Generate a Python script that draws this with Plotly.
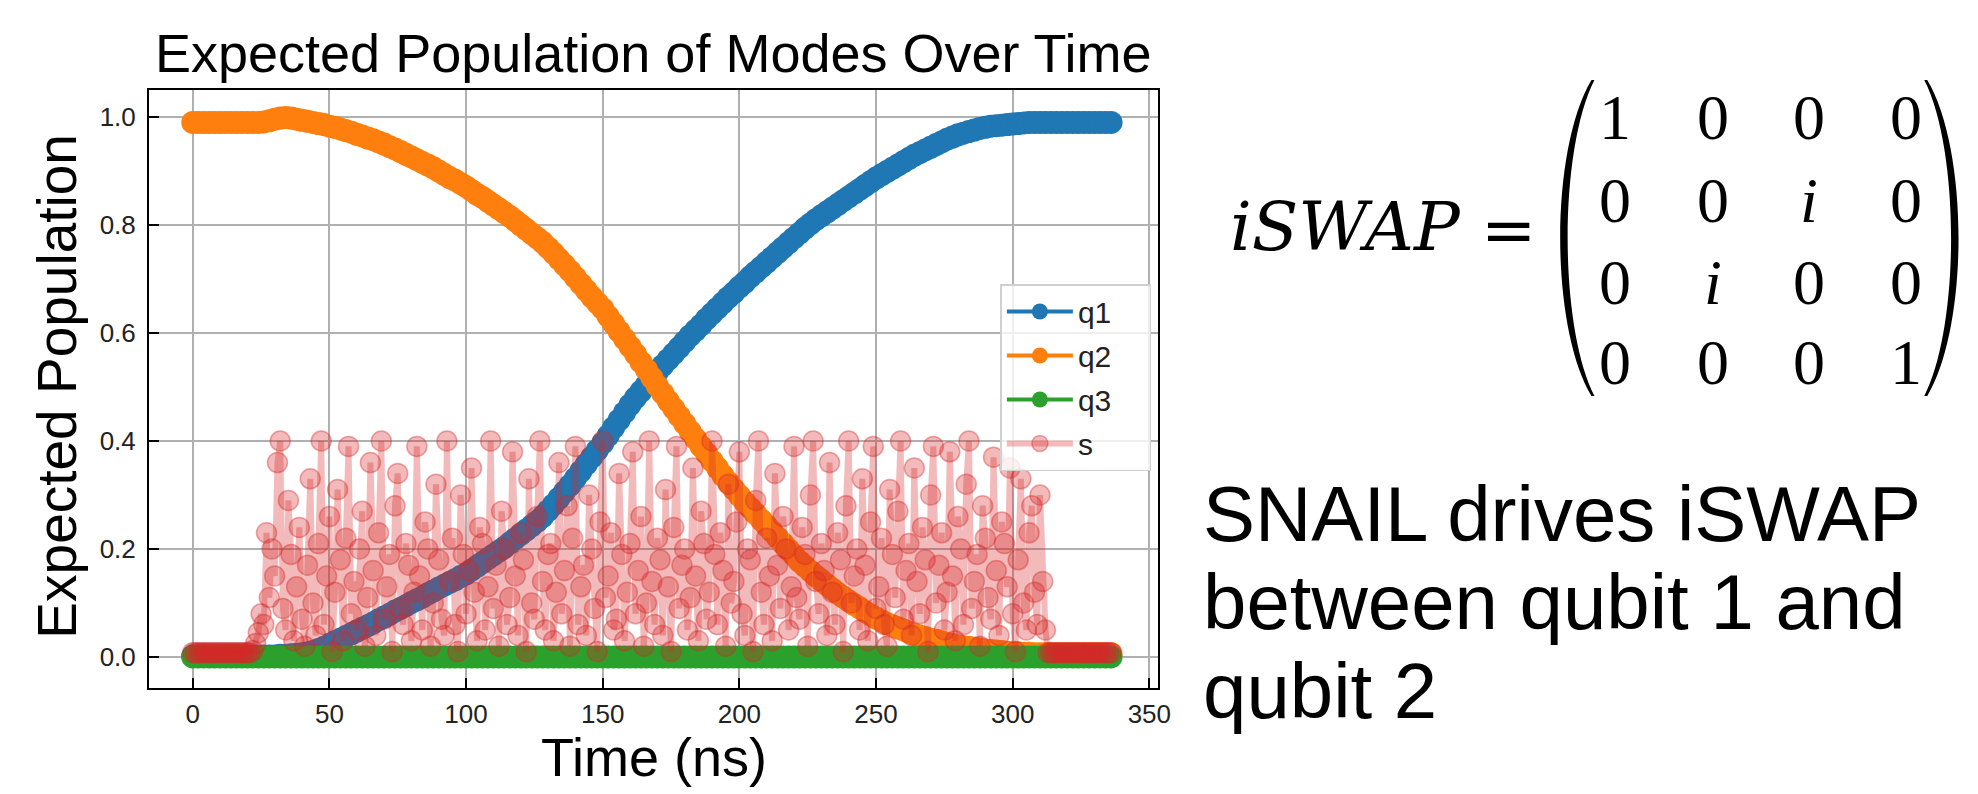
import plotly.graph_objects as go

W, H = 1978, 794

# ---------------- data ----------------
time_q = list(range(0, 337, 2))      # ns, for q1 / q2 / q3
time_s = list(range(0, 337))         # ns, for s

q1 = [
    0.002, 0.002, 0.002, 0.002, 0.002, 0.002, 0.002, 0.002, 0.002, 0.002,
    0.002, 0.002, 0.002, 0.002, 0.002, 0.002, 0.003, 0.003, 0.004, 0.005,
    0.006, 0.008, 0.010, 0.014, 0.018, 0.023, 0.028, 0.033, 0.038, 0.043,
    0.048, 0.053, 0.058, 0.063, 0.069, 0.074, 0.079, 0.085, 0.090, 0.095,
    0.101, 0.106, 0.111, 0.117, 0.122, 0.128, 0.133, 0.138, 0.143, 0.149,
    0.154, 0.161, 0.168, 0.175, 0.182, 0.189, 0.196, 0.203, 0.211, 0.219,
    0.227, 0.235, 0.243, 0.251, 0.260, 0.271, 0.282, 0.294, 0.306, 0.318,
    0.331, 0.344, 0.357, 0.370, 0.383, 0.396, 0.410, 0.425, 0.439, 0.453,
    0.467, 0.480, 0.492, 0.504, 0.516, 0.528, 0.540, 0.551, 0.562, 0.573,
    0.584, 0.595, 0.605, 0.615, 0.626, 0.636, 0.646, 0.656, 0.666, 0.675,
    0.685, 0.694, 0.704, 0.713, 0.722, 0.731, 0.740, 0.749, 0.758, 0.767,
    0.776, 0.785, 0.794, 0.802, 0.810, 0.817, 0.824, 0.831, 0.838, 0.845,
    0.852, 0.859, 0.866, 0.873, 0.880, 0.887, 0.893, 0.899, 0.905, 0.911,
    0.917, 0.923, 0.929, 0.934, 0.939, 0.944, 0.949, 0.954, 0.959, 0.963,
    0.967, 0.970, 0.973, 0.976, 0.979, 0.981, 0.983, 0.984, 0.985, 0.986,
    0.987, 0.988, 0.989, 0.990, 0.990, 0.990, 0.990, 0.990, 0.990, 0.990,
    0.990, 0.990, 0.990, 0.990, 0.990, 0.990, 0.990, 0.990, 0.990,
]

q2 = [
    0.990, 0.990, 0.990, 0.990, 0.990, 0.990, 0.990, 0.990, 0.990, 0.990,
    0.990, 0.990, 0.990, 0.991, 0.993, 0.996, 0.998, 0.999, 0.998, 0.996,
    0.994, 0.992, 0.990, 0.988, 0.986, 0.983, 0.981, 0.978, 0.975, 0.972,
    0.968, 0.965, 0.961, 0.958, 0.954, 0.950, 0.945, 0.941, 0.936, 0.931,
    0.926, 0.921, 0.916, 0.911, 0.906, 0.900, 0.894, 0.888, 0.883, 0.877,
    0.871, 0.864, 0.857, 0.851, 0.844, 0.837, 0.830, 0.823, 0.816, 0.808,
    0.800, 0.792, 0.784, 0.776, 0.768, 0.758, 0.748, 0.737, 0.726, 0.715,
    0.703, 0.691, 0.679, 0.667, 0.656, 0.645, 0.631, 0.617, 0.603, 0.589,
    0.575, 0.561, 0.546, 0.532, 0.517, 0.502, 0.488, 0.474, 0.460, 0.446,
    0.432, 0.418, 0.404, 0.390, 0.377, 0.363, 0.350, 0.336, 0.323, 0.311,
    0.299, 0.287, 0.276, 0.265, 0.254, 0.243, 0.232, 0.221, 0.210, 0.199,
    0.188, 0.177, 0.168, 0.159, 0.150, 0.142, 0.134, 0.126, 0.118, 0.111,
    0.104, 0.097, 0.091, 0.084, 0.078, 0.072, 0.067, 0.062, 0.058, 0.054,
    0.050, 0.046, 0.042, 0.039, 0.036, 0.033, 0.031, 0.028, 0.025, 0.023,
    0.021, 0.019, 0.018, 0.016, 0.015, 0.013, 0.012, 0.011, 0.010, 0.009,
    0.008, 0.008, 0.007, 0.007, 0.006, 0.006, 0.006, 0.006, 0.006, 0.006,
    0.006, 0.006, 0.006, 0.006, 0.006, 0.006, 0.006, 0.006, 0.006,
]

q3 = [
    0.0, 0.0, 0.0, 0.0, 0.0, 0.0, 0.0, 0.0, 0.0, 0.0,
    0.0, 0.0, 0.0, 0.0, 0.0, 0.0, 0.0, 0.0, 0.0, 0.0,
    0.0, 0.0, 0.0, 0.0, 0.0, 0.0, 0.0, 0.0, 0.0, 0.0,
    0.0, 0.0, 0.0, 0.0, 0.0, 0.0, 0.0, 0.0, 0.0, 0.0,
    0.0, 0.0, 0.0, 0.0, 0.0, 0.0, 0.0, 0.0, 0.0, 0.0,
    0.0, 0.0, 0.0, 0.0, 0.0, 0.0, 0.0, 0.0, 0.0, 0.0,
    0.0, 0.0, 0.0, 0.0, 0.0, 0.0, 0.0, 0.0, 0.0, 0.0,
    0.0, 0.0, 0.0, 0.0, 0.0, 0.0, 0.0, 0.0, 0.0, 0.0,
    0.0, 0.0, 0.0, 0.0, 0.0, 0.0, 0.0, 0.0, 0.0, 0.0,
    0.0, 0.0, 0.0, 0.0, 0.0, 0.0, 0.0, 0.0, 0.0, 0.0,
    0.0, 0.0, 0.0, 0.0, 0.0, 0.0, 0.0, 0.0, 0.0, 0.0,
    0.0, 0.0, 0.0, 0.0, 0.0, 0.0, 0.0, 0.0, 0.0, 0.0,
    0.0, 0.0, 0.0, 0.0, 0.0, 0.0, 0.0, 0.0, 0.0, 0.0,
    0.0, 0.0, 0.0, 0.0, 0.0, 0.0, 0.0, 0.0, 0.0, 0.0,
    0.0, 0.0, 0.0, 0.0, 0.0, 0.0, 0.0, 0.0, 0.0, 0.0,
    0.0, 0.0, 0.0, 0.0, 0.0, 0.0, 0.0, 0.0, 0.0, 0.0,
    0.0, 0.0, 0.0, 0.0, 0.0, 0.0, 0.0, 0.0, 0.0,
]

s_pop = [
    # t = 0 .. 21
    0.008, 0.008, 0.008, 0.008, 0.008, 0.008, 0.008, 0.008, 0.008, 0.008,
    0.008, 0.008, 0.008, 0.008, 0.008, 0.008, 0.008, 0.008, 0.008, 0.008,
    0.008, 0.008,
    # t = 22 .. 311
    0.012, 0.025, 0.045, 0.080, 0.060, 0.230, 0.110, 0.200, 0.150, 0.360,
    0.400, 0.090, 0.050, 0.290, 0.190, 0.030, 0.130, 0.240, 0.070, 0.020,
    0.170, 0.330, 0.100, 0.040, 0.210, 0.400, 0.060, 0.150, 0.260, 0.010,
    0.120, 0.310, 0.180, 0.030, 0.220, 0.390, 0.080, 0.140, 0.050, 0.200,
    0.270, 0.020, 0.110, 0.360, 0.160, 0.040, 0.230, 0.400, 0.070, 0.130,
    0.190, 0.010, 0.280, 0.340, 0.090, 0.060, 0.210, 0.170, 0.030, 0.120,
    0.390, 0.150, 0.050, 0.250, 0.200, 0.020, 0.100, 0.320, 0.180, 0.070,
    0.040, 0.400, 0.140, 0.220, 0.060, 0.010, 0.300, 0.190, 0.080, 0.160,
    0.350, 0.120, 0.030, 0.240, 0.210, 0.050, 0.130, 0.400, 0.090, 0.170,
    0.020, 0.270, 0.200, 0.060, 0.110, 0.380, 0.150, 0.040, 0.230, 0.180,
    0.010, 0.330, 0.100, 0.070, 0.260, 0.400, 0.140, 0.050, 0.190, 0.210,
    0.030, 0.120, 0.360, 0.080, 0.160, 0.280, 0.020, 0.220, 0.390, 0.060,
    0.130, 0.170, 0.040, 0.300, 0.200, 0.090, 0.010, 0.250, 0.400, 0.110,
    0.150, 0.230, 0.050, 0.070, 0.340, 0.190, 0.030, 0.120, 0.210, 0.380,
    0.080, 0.160, 0.260, 0.020, 0.100, 0.400, 0.140, 0.060, 0.220, 0.180,
    0.040, 0.310, 0.130, 0.010, 0.240, 0.390, 0.090, 0.170, 0.200, 0.050,
    0.110, 0.350, 0.150, 0.030, 0.270, 0.210, 0.070, 0.120, 0.400, 0.190,
    0.060, 0.230, 0.160, 0.020, 0.320, 0.100, 0.140, 0.250, 0.380, 0.080,
    0.040, 0.200, 0.180, 0.010, 0.290, 0.400, 0.120, 0.060, 0.220, 0.150,
    0.030, 0.340, 0.170, 0.090, 0.260, 0.200, 0.050, 0.130, 0.390, 0.110,
    0.070, 0.240, 0.190, 0.020, 0.300, 0.400, 0.140, 0.080, 0.210, 0.160,
    0.040, 0.360, 0.120, 0.060, 0.230, 0.180, 0.010, 0.280, 0.400, 0.100,
    0.150, 0.200, 0.050, 0.330, 0.170, 0.030, 0.250, 0.390, 0.090, 0.130,
    0.220, 0.060, 0.020, 0.310, 0.190, 0.110, 0.270, 0.400, 0.070, 0.160,
    0.210, 0.040, 0.350, 0.140, 0.080, 0.240, 0.180, 0.010, 0.300, 0.390,
    0.100, 0.170, 0.230, 0.050, 0.120, 0.380, 0.150, 0.030, 0.260, 0.200,
    0.060, 0.320, 0.400, 0.090, 0.140, 0.190, 0.020, 0.280, 0.220, 0.110,
    0.070, 0.370, 0.160, 0.040, 0.250, 0.210, 0.130, 0.350, 0.080, 0.010,
    0.180, 0.330, 0.100, 0.050, 0.230, 0.280, 0.120, 0.060, 0.300, 0.140,
    # t = 312 .. 336
    0.050, 0.008, 0.008, 0.008, 0.008, 0.008, 0.008, 0.008, 0.008, 0.008,
    0.008, 0.008, 0.008, 0.008, 0.008, 0.008, 0.008, 0.008, 0.008, 0.008,
    0.008, 0.008, 0.008, 0.008, 0.008,
]

series_names = ["q1", "q2", "q3", "s"]
x_ticks = [0, 50, 100, 150, 200, 250, 300, 350]
y_ticks = [0.0, 0.2, 0.4, 0.6, 0.8, 1.0]

title_text = "Expected Population of Modes Over Time"
x_title = "Time (ns)"
y_title = "Expected Population"

matrix_rows = [
    ["1", "0", "0", "0"],
    ["0", "0", "<i>i</i>", "0"],
    ["0", "<i>i</i>", "0", "0"],
    ["0", "0", "0", "1"],
]
note_lines = ["SNAIL drives iSWAP", "between qubit 1 and", "qubit 2"]

assert len(q1) == len(time_q) and len(q2) == len(time_q) and len(q3) == len(time_q)
assert len(s_pop) == len(time_s)

# ---------------- styling ----------------
SANS = "Liberation Sans, Arial, Helvetica, sans-serif"
SERIF = "Liberation Serif, Times New Roman, serif"
DSERIF = "DejaVu Serif, Liberation Serif, serif"
BLUE, ORANGE, GREEN = "#1f77b4", "#ff7f0e", "#2ca02c"
RED_A = "rgba(214,39,40,0.32)"
RED_EDGE = "rgba(214,39,40,0.40)"
PAD = "\u00a0" * 4   # right padding inside the legend box


def fx(px):
    return px / W


def fy(py):
    return 1 - py / H


fig = go.Figure()

solid = [(q1, BLUE), (q2, ORANGE), (q3, GREEN)]
for (vals, col), name in zip(solid, series_names[:3]):
    fig.add_trace(go.Scatter(
        x=time_q, y=vals, name=name + PAD, mode="lines+markers",
        legendgroup=name,
        line=dict(color=col, width=4),
        marker=dict(color=col, size=23, line=dict(width=0)),
    ))

fig.add_trace(go.Scatter(
    x=time_s, y=s_pop, name=series_names[3] + PAD, mode="lines+markers",
    legendgroup=series_names[3],
    line=dict(color=RED_A, width=6),
    marker=dict(color=RED_A, size=20, line=dict(width=1.5, color=RED_EDGE)),
))

axis_common = dict(
    showline=True, linecolor="black", linewidth=2, mirror=True,
    showgrid=True, gridcolor="#b0b0b0", gridwidth=1.5,
    zeroline=False, ticks="inside", ticklen=10, tickwidth=2, tickcolor="black",
    tickfont=dict(family=SANS, size=26, color="#222222"),
)

fig.update_layout(
    width=W, height=H,
    margin=dict(l=0, r=0, t=0, b=0),
    paper_bgcolor="white", plot_bgcolor="white",
    showlegend=True,
    xaxis=dict(domain=[fx(150), fx(1166)], range=[-16.0, 353.3],
               tickvals=x_ticks, ticktext=[str(v) for v in x_ticks],
               ticklabelstandoff=2, **axis_common),
    yaxis=dict(domain=[fy(687.5), fy(89.5)], range=[-0.0565, 1.051],
               tickvals=y_ticks, tickformat=".1f",
               ticklabelstandoff=6, **axis_common),
    legend=dict(
        x=fx(1007), y=fy(284), xanchor="left", yanchor="top",
        bgcolor="rgba(255,255,255,0.8)", bordercolor="#d0d0d0", borderwidth=1.5,
        font=dict(family=SANS, size=30, color="#222222"),
        itemwidth=66, tracegroupgap=2,
    ),
)

ann = []
# chart title and axis titles
ann.append(dict(text=title_text, x=fx(658), y=fy(53), xref="paper", yref="paper",
                xanchor="center", yanchor="middle", showarrow=False,
                font=dict(family=SANS, size=54, color="black")))
ann.append(dict(text=x_title, x=fx(658), y=fy(757), xref="paper", yref="paper",
                xanchor="center", yanchor="middle", showarrow=False,
                font=dict(family=SANS, size=54, color="black")))
ann.append(dict(text=y_title, x=fx(57), y=fy(386), xref="paper", yref="paper",
                xanchor="center", yanchor="middle", showarrow=False, textangle=-90,
                font=dict(family=SANS, size=55, color="black")))

# iSWAP formula
ann.append(dict(text="<i>iSWAP</i>", x=fx(1236), y=fy(226), xref="paper", yref="paper",
                xanchor="left", yanchor="middle", showarrow=False,
                font=dict(family=DSERIF, size=68, color="black")))
ann.append(dict(text="=", x=fx(1518), y=fy(230), xref="paper", yref="paper",
                xanchor="center", yanchor="middle", showarrow=False,
                font=dict(family=DSERIF, size=66, color="black")))
col_px = [1626, 1724, 1821, 1919]
row_px = [114, 196, 278, 358]
for r, row in enumerate(matrix_rows):
    for c, val in enumerate(row):
        ann.append(dict(text=val, x=fx(col_px[c]), y=fy(row_px[r] + 4),
                        xref="paper", yref="paper", xanchor="center", yanchor="middle",
                        showarrow=False, font=dict(family=SERIF, size=64, color="black")))

# explanatory text
line_centers = [514, 602, 691]
for yc, line in zip(line_centers, note_lines):
    ann.append(dict(text=line, x=fx(1209), y=fy(yc), xref="paper", yref="paper",
                    xanchor="left", yanchor="middle", showarrow=False,
                    font=dict(family=SANS, size=78, color="black")))

fig.update_layout(annotations=ann)


# matrix parentheses
def P(px, py):
    return f"{fx(px):.5f},{fy(py):.5f}"


top, bot = 80, 396
left_path = (f"M{P(1602, top)} C{P(1560, 150)} {P(1560, 326)} {P(1602, bot)} "
             f"L{P(1605, bot)} C{P(1569, 326)} {P(1569, 150)} {P(1605, top)} Z")
right_path = (f"M{P(1940, top)} C{P(1982, 150)} {P(1982, 326)} {P(1940, bot)} "
              f"L{P(1937, bot)} C{P(1973, 326)} {P(1973, 150)} {P(1937, top)} Z")
fig.update_layout(shapes=[
    dict(type="path", path=left_path, xref="paper", yref="paper",
         fillcolor="black", line=dict(width=0)),
    dict(type="path", path=right_path, xref="paper", yref="paper",
         fillcolor="black", line=dict(width=0)),
])

fig.write_html("out.html")
